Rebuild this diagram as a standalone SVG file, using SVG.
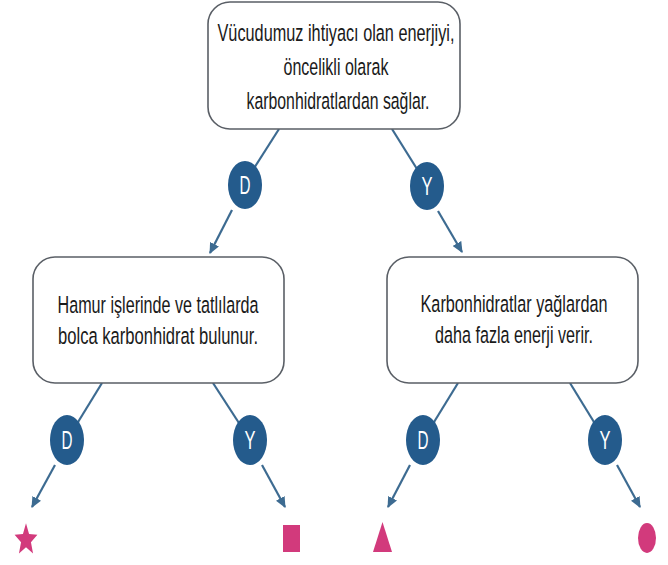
<svg xmlns="http://www.w3.org/2000/svg" width="668" height="565" viewBox="0 0 668 565">
<defs>
<style>
.box{fill:#fff;stroke:#5a5f66;stroke-width:1.6}
.t{font-family:"Liberation Sans",Arial,sans-serif;font-size:19px;fill:#1a1a1a;text-anchor:middle}
.c{stroke:#3d6b91;stroke-width:2.2;fill:none}
.b{fill:#245b8c}
.bl{font-family:"Liberation Sans",Arial,sans-serif;font-size:25px;fill:#fff;text-anchor:middle}
.p{fill:#d23a7c}
</style>
<marker id="ah" viewBox="0 0 10 9" refX="9" refY="4.5" markerUnits="userSpaceOnUse" markerWidth="11" markerHeight="10" orient="auto">
<path d="M0,0 L10,4.5 L0,9 z" fill="#3d6b91"/>
</marker>
</defs>
<rect width="668" height="565" fill="#fff"/>
<g id="connectors">
<line class="c" x1="279" y1="129" x2="244" y2="184"/>
<line class="c" x1="232" y1="210" x2="210" y2="253" marker-end="url(#ah)"/>
<line class="c" x1="392" y1="129" x2="427" y2="185"/>
<line class="c" x1="438" y1="211" x2="462" y2="252" marker-end="url(#ah)"/>
<line class="c" x1="102" y1="383" x2="67" y2="440"/>
<line class="c" x1="55" y1="465" x2="32" y2="507" marker-end="url(#ah)"/>
<line class="c" x1="213" y1="383" x2="250" y2="440"/>
<line class="c" x1="262" y1="465" x2="285" y2="507" marker-end="url(#ah)"/>
<line class="c" x1="458" y1="383" x2="423" y2="440"/>
<line class="c" x1="410" y1="465" x2="388" y2="507" marker-end="url(#ah)"/>
<line class="c" x1="570" y1="383" x2="605" y2="440"/>
<line class="c" x1="617" y1="465" x2="640" y2="507" marker-end="url(#ah)"/>
</g>
<g id="n-top">
<rect class="box" x="208" y="2" width="252" height="127" rx="22"/>
<text class="t" transform="translate(336,41) scale(1,1.26)" textLength="237" lengthAdjust="spacingAndGlyphs">Vücudumuz ihtiyacı olan enerjiyi,</text>
<text class="t" transform="translate(336,75) scale(1,1.26)" textLength="105" lengthAdjust="spacingAndGlyphs">öncelikli olarak</text>
<text class="t" transform="translate(338,109) scale(1,1.26)" textLength="183" lengthAdjust="spacingAndGlyphs">karbonhidratlardan sağlar.</text>
</g>
<g id="n-left">
<rect class="box" x="33" y="257" width="251" height="126" rx="22"/>
<text class="t" transform="translate(158,313) scale(1,1.26)" textLength="201" lengthAdjust="spacingAndGlyphs">Hamur işlerinde ve tatlılarda</text>
<text class="t" transform="translate(158,344) scale(1,1.26)" textLength="200" lengthAdjust="spacingAndGlyphs">bolca karbonhidrat bulunur.</text>
</g>
<g id="n-right">
<rect class="box" x="387" y="257" width="251" height="126" rx="22"/>
<text class="t" transform="translate(514,312) scale(1,1.26)" textLength="187" lengthAdjust="spacingAndGlyphs">Karbonhidratlar yağlardan</text>
<text class="t" transform="translate(514,343) scale(1,1.26)" textLength="158" lengthAdjust="spacingAndGlyphs">daha fazla enerji verir.</text>
</g>
<g id="l-d1"><ellipse class="b" cx="245" cy="185" rx="17" ry="24"/><text class="bl" x="245" y="194" textLength="11" lengthAdjust="spacingAndGlyphs">D</text></g>
<g id="l-y1"><ellipse class="b" cx="427" cy="186" rx="17" ry="24"/><text class="bl" x="427" y="195" textLength="11" lengthAdjust="spacingAndGlyphs">Y</text></g>
<g id="l-d2"><ellipse class="b" cx="67" cy="440" rx="17" ry="25"/><text class="bl" x="67" y="449" textLength="11" lengthAdjust="spacingAndGlyphs">D</text></g>
<g id="l-y2"><ellipse class="b" cx="250" cy="440" rx="17" ry="25"/><text class="bl" x="250" y="449" textLength="11" lengthAdjust="spacingAndGlyphs">Y</text></g>
<g id="l-d3"><ellipse class="b" cx="423" cy="440" rx="17" ry="25"/><text class="bl" x="423" y="449" textLength="11" lengthAdjust="spacingAndGlyphs">D</text></g>
<g id="l-y3"><ellipse class="b" cx="605" cy="440" rx="17" ry="25"/><text class="bl" x="605" y="449" textLength="11" lengthAdjust="spacingAndGlyphs">Y</text></g>
<g id="star"><polygon class="p" transform="translate(26,540) scale(1,1.4)" points="0,-12 3.06,-4.2 11.4,-3.7 4.95,1.6 7.05,9.7 0,5.2 -7.05,9.7 -4.95,1.6 -11.4,-3.7 -3.06,-4.2"/></g>
<g id="square"><rect class="p" x="283" y="525" width="17" height="27"/></g>
<g id="triangle"><polygon class="p" points="382.5,522 392,552 373,552"/></g>
<g id="circle"><ellipse class="p" cx="647" cy="538" rx="9" ry="15"/></g>
</svg>
